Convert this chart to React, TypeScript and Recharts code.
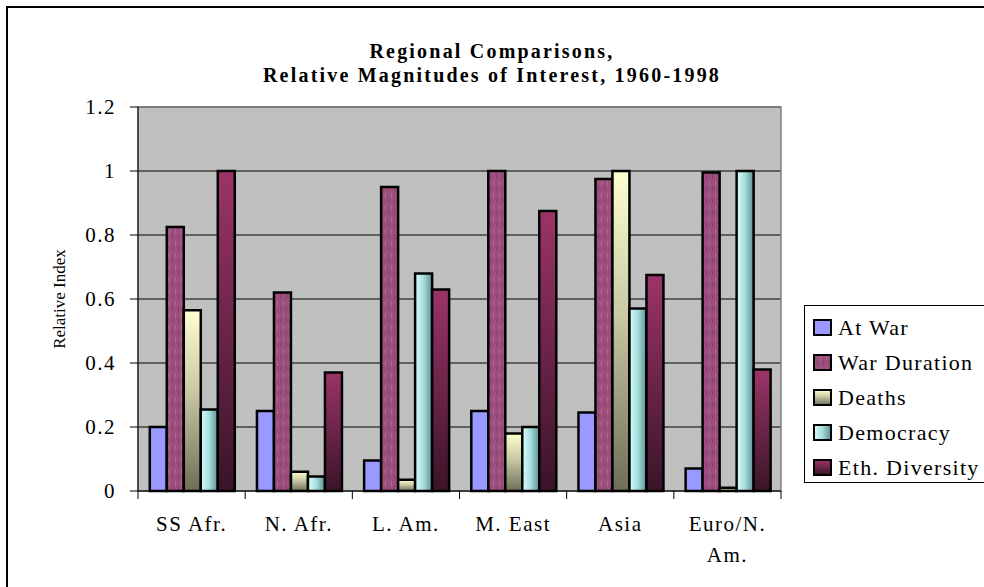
import React from "react";
import { Bar, BarChart, CartesianGrid, ReferenceArea, XAxis, YAxis } from "recharts";

const categories = ["SS Afr.", "N. Afr.", "L. Am.", "M. East", "Asia", "Euro/N. Am."];
const atWar = [0.2, 0.25, 0.095, 0.25, 0.245, 0.07];
const warDuration = [0.825, 0.62, 0.95, 1.0, 0.975, 0.995];
const deaths = [0.565, 0.06, 0.035, 0.18, 1.0, 0.01];
const democracy = [0.255, 0.045, 0.68, 0.2, 0.57, 1.0];
const ethDiversity = [1.0, 0.37, 0.63, 0.875, 0.675, 0.38];
const yTicks = [0, 0.2, 0.4, 0.6, 0.8, 1, 1.2];

const series = [
  { key: "atWar", name: "At War", fill: "#9999FF" },
  { key: "warDuration", name: "War Duration", fill: "url(#warDurationFill)" },
  { key: "deaths", name: "Deaths", fill: "url(#deathsFill)" },
  { key: "democracy", name: "Democracy", fill: "url(#democracyFill)" },
  { key: "ethDiversity", name: "Eth. Diversity", fill: "url(#ethFill)" },
];

const data = categories.map((region, i) => ({
  region,
  atWar: atWar[i],
  warDuration: warDuration[i],
  deaths: deaths[i],
  democracy: democracy[i],
  ethDiversity: ethDiversity[i],
}));

const serif = '"Liberation Serif", "Times New Roman", serif';

function splitLabel(label: string) {
  const lines: string[] = [];
  let current = "";
  label.split(" ").forEach(word => {
    const next = current ? `${current} ${word}` : word;
    if (next.length > 8 && current) {
      lines.push(current);
      current = word;
    } else {
      current = next;
    }
  });
  if (current) lines.push(current);
  return lines;
}

function RegionTick(props: any) {
  const { x, y, payload, index } = props;
  const half = payload?.offset || 53.6;
  const lines = splitLabel(String(payload.value));
  return (
    <g>
      <line x1={x - half} y1={y} x2={x - half} y2={y + 8} stroke="#000" />
      {index === categories.length - 1 && <line x1={x + half} y1={y} x2={x + half} y2={y + 8} stroke="#000" />}
      <text x={x} y={y + 40} textAnchor="middle" fontSize={21} fontFamily={serif} letterSpacing={1.5} fill="#000">
        {lines.map((line, i) => (
          <tspan key={line} x={x} dy={i === 0 ? 0 : 31}>{line}</tspan>
        ))}
      </text>
    </g>
  );
}

function LegendBox() {
  return (
    <div
      style={{
        position: "absolute",
        left: 804,
        top: 305,
        width: 200,
        height: 178,
        border: "1px solid #000",
        background: "#fff",
        boxSizing: "border-box",
        paddingTop: 4,
        fontFamily: serif,
        fontSize: 22,
        letterSpacing: 1.3,
      }}
    >
      {series.map(s => (
        <div key={s.key} style={{ height: 35, display: "flex", alignItems: "center" }}>
          <svg width={20} height={17} style={{ marginLeft: 8, marginRight: 5 }}>
            <rect x={1} y={1} width={17} height={15} fill={s.fill} stroke="#000" strokeWidth={2} />
          </svg>
          <span style={{ whiteSpace: "nowrap" }}>{s.name}</span>
        </div>
      ))}
    </div>
  );
}

export default function App() {
  return (
    <div style={{ position: "absolute", left: 0, top: 0, width: 984, height: 587, overflow: "hidden", background: "#fff" }}>
      <div style={{ position: "absolute", left: 6, top: 6, width: 2000, height: 2000, borderTop: "2px solid #000", borderLeft: "2px solid #000" }} />
      <div
        style={{
          position: "absolute",
          left: 0,
          top: 39,
          width: 984,
          textAlign: "center",
          fontFamily: serif,
          fontWeight: 700,
          fontSize: 20,
          lineHeight: "24px",
          letterSpacing: 2.2,
        }}
      >
        <div>Regional Comparisons,</div>
        <div>Relative Magnitudes of Interest, 1960-1998</div>
      </div>
      <div
        style={{
          position: "absolute",
          left: 60,
          top: 299,
          transform: "translate(-50%, -50%) rotate(-90deg)",
          whiteSpace: "nowrap",
          fontFamily: serif,
          fontSize: 17,
        }}
      >
        Relative Index
      </div>
      <div style={{ position: "absolute", left: 0, top: 0 }}>
        <BarChart
          width={984}
          height={587}
          data={data}
          margin={{ top: 107, right: 203, bottom: 36, left: 78 }}
          barCategoryGap="11%"
          barGap={0}
        >
          <defs>
            <pattern id="warDurationFill" width={6} height={12} patternUnits="userSpaceOnUse">
              <rect width={6} height={12} fill="#9C4F7D" />
              <line x1={1.5} y1={1} x2={1.5} y2={6} stroke="#B46892" strokeWidth={1} />
              <line x1={4.5} y1={6} x2={4.5} y2={11} stroke="#85406A" strokeWidth={1} />
            </pattern>
            <linearGradient id="deathsFill" x1="0" y1="0" x2="0" y2="1">
              <stop offset="0%" stopColor="#FFFFD0" />
              <stop offset="45%" stopColor="#C8C8A4" />
              <stop offset="100%" stopColor="#6E6E58" />
            </linearGradient>
            <linearGradient id="democracyFill" x1="0" y1="0" x2="1" y2="0">
              <stop offset="0%" stopColor="#D8FFFF" />
              <stop offset="50%" stopColor="#A6DCDC" />
              <stop offset="100%" stopColor="#5E9090" />
            </linearGradient>
            <linearGradient id="ethFill" x1="0" y1="0" x2="0" y2="1">
              <stop offset="0%" stopColor="#9C3468" />
              <stop offset="100%" stopColor="#3A1428" />
            </linearGradient>
          </defs>
          <CartesianGrid vertical={false} stroke="#000" fill="#C0C0C0" />
          <ReferenceArea y1={0} y2={1.2} fill="none" stroke="#808080" strokeWidth={1.5} />
          <XAxis
            dataKey="region"
            interval={0}
            height={60}
            tickLine={false}
            tickSize={0}
            tickMargin={0}
            axisLine={{ stroke: "#000" }}
            tick={<RegionTick />}
          />
          <YAxis
            width={60}
            domain={[0, 1.2]}
            ticks={yTicks}
            tickSize={8}
            tickMargin={14}
            tickLine={{ stroke: "#000" }}
            axisLine={{ stroke: "#000" }}
            tickFormatter={v => String(Number(Number(v).toFixed(1)))}
            tick={{ fontSize: 21, fontFamily: serif, fill: "#000", letterSpacing: 1.5 }}
          />
          {series.map(s => (
            <Bar
              key={s.key}
              dataKey={s.key}
              name={s.name}
              fill={s.fill}
              stroke="#000"
              strokeWidth={2.5}
              isAnimationActive={false}
            />
          ))}
        </BarChart>
      </div>
      <LegendBox />
    </div>
  );
}
